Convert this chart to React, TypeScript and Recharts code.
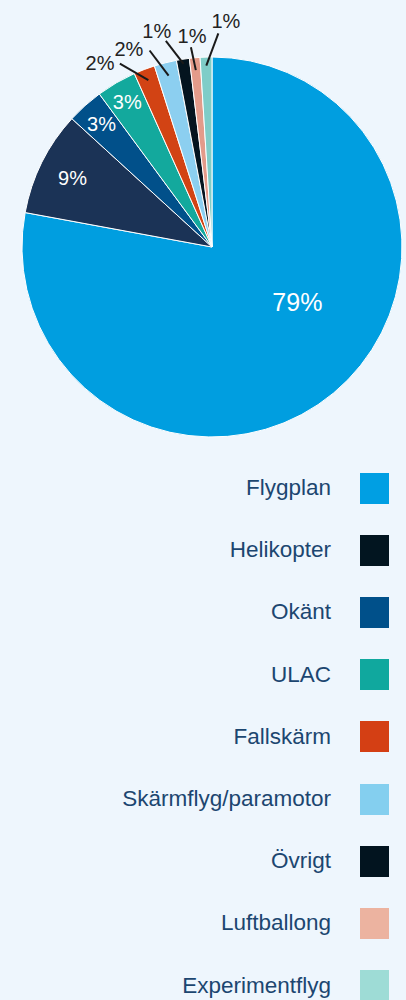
import { Legend, Pie, PieChart, Cell } from 'recharts'

// Olyckor/tillbud per luftfartygskategori (andel, %)
const CATEGORIES = [
  'Flygplan', 'Helikopter', 'Okänt', 'ULAC', 'Fallskärm',
  'Skärmflyg/paramotor', 'Övrigt', 'Luftballong', 'Experimentflyg',
]
const SHARES = [77.9, 8.9, 3.1, 3.4, 1.8, 1.9, 1.1, 0.9, 1.0]
const SHARE_LABELS = ['79%', '9%', '3%', '3%', '2%', '2%', '1%', '1%', '1%']

const SLICE_COLORS = [
  '#009ee0', '#1b3356', '#01508a', '#13a99d', '#d24314',
  '#8ccff0', '#04141f', '#e39b8a', '#7fcdc8',
]
const LEGEND_COLORS = [
  '#009fe3', '#021520', '#00508a', '#10a89e', '#d43f14',
  '#84cfef', '#02141f', '#ecb3a0', '#9edcd6',
]

const data = CATEGORIES.map((name, i) => ({ name, value: SHARES[i] }))

const FONT = '"Liberation Sans", Arial, Helvetica, sans-serif'
const RADIAN = Math.PI / 180

// Label placement, in radius fractions and angle shifts from the slice mid.
// Big slices get their label inside; the thin ones get a leader line.
type Place =
  | { kind: 'in'; r: number; shift: number; size: number }
  | { kind: 'out'; from: number; to: number; toShift: number; text: number; textShift: number }

const PLACES: Place[] = [
  { kind: 'in', r: 0.534, shift: 17.5, size: 25 },
  { kind: 'in', r: 0.82, shift: 0, size: 20 },
  { kind: 'in', r: 0.87, shift: 0, size: 20 },
  { kind: 'in', r: 0.886, shift: 0, size: 20 },
  { kind: 'out', from: 0.94, to: 1.08, toShift: 5.8, text: 1.135, textShift: 10.4 },
  { kind: 'out', from: 0.93, to: 1.085, toShift: 3.4, text: 1.128, textShift: 8.6 },
  { kind: 'out', from: 0.975, to: 1.112, toShift: 3.8, text: 1.176, textShift: 5.5 },
  { kind: 'out', from: 0.935, to: 1.057, toShift: 0.8, text: 1.113, textShift: 0.2 },
  { kind: 'out', from: 0.955, to: 1.125, toShift: -3.5, text: 1.194, textShift: -5.3 },
]

function polar(cx: number, cy: number, r: number, angle: number) {
  return [cx + r * Math.cos(-angle * RADIAN), cy + r * Math.sin(-angle * RADIAN)]
}

function SliceLabel(props: any) {
  const { cx, cy, midAngle, outerRadius, index } = props
  const place = PLACES[index]
  const label = SHARE_LABELS[index]
  if (place.kind === 'in') {
    const [x, y] = polar(cx, cy, outerRadius * place.r, midAngle + place.shift)
    return (
      <text x={x} y={y} fill="#fff" fontSize={place.size} fontFamily={FONT}
        textAnchor="middle" dominantBaseline="central">
        {label}
      </text>
    )
  }
  const [x1, y1] = polar(cx, cy, outerRadius * place.from, midAngle)
  const [x2, y2] = polar(cx, cy, outerRadius * place.to, midAngle + place.toShift)
  const [tx, ty] = polar(cx, cy, outerRadius * place.text, midAngle + place.textShift)
  return (
    <g>
      <line x1={x1} y1={y1} x2={x2} y2={y2} stroke="#1a1a1a" strokeWidth={2} />
      <text x={tx} y={ty} fill="#222" fontSize={20} fontFamily={FONT}
        textAnchor="middle" dominantBaseline="central">
        {label}
      </text>
    </g>
  )
}

function SideLegend() {
  return (
    <div style={{ width: 406, fontFamily: FONT }}>
      {CATEGORIES.map((name, i) => (
        <div key={name} style={{
          height: 62.2, display: 'flex', alignItems: 'center', justifyContent: 'flex-end',
        }}>
          <span style={{ fontSize: 22.5, color: '#1c4670' }}>{name}</span>
          <span style={{
            width: 29, height: 31, marginLeft: 29, marginRight: 17,
            background: LEGEND_COLORS[i], display: 'inline-block',
          }} />
        </div>
      ))}
    </div>
  )
}

export default function App() {
  return (
    <div style={{ width: 406, height: 1000, background: '#eef6fd', overflow: 'hidden' }}>
      <style>{'body{margin:0}'}</style>
      <PieChart width={406} height={1000} margin={{ top: 0, right: 0, bottom: 0, left: 0 }}>
        <Pie
          data={data}
          dataKey="value"
          nameKey="name"
          cx={212}
          cy={247}
          outerRadius={190}
          startAngle={90}
          endAngle={-270}
          stroke="#fff"
          strokeWidth={1}
          label={SliceLabel}
          labelLine={false}
          isAnimationActive={false}
        >
          {data.map((d, i) => (
            <Cell key={d.name} fill={SLICE_COLORS[i]} />
          ))}
        </Pie>
        <Legend
          content={<SideLegend />}
          wrapperStyle={{ top: 457, left: 0, width: 406 }}
        />
      </PieChart>
    </div>
  )
}
